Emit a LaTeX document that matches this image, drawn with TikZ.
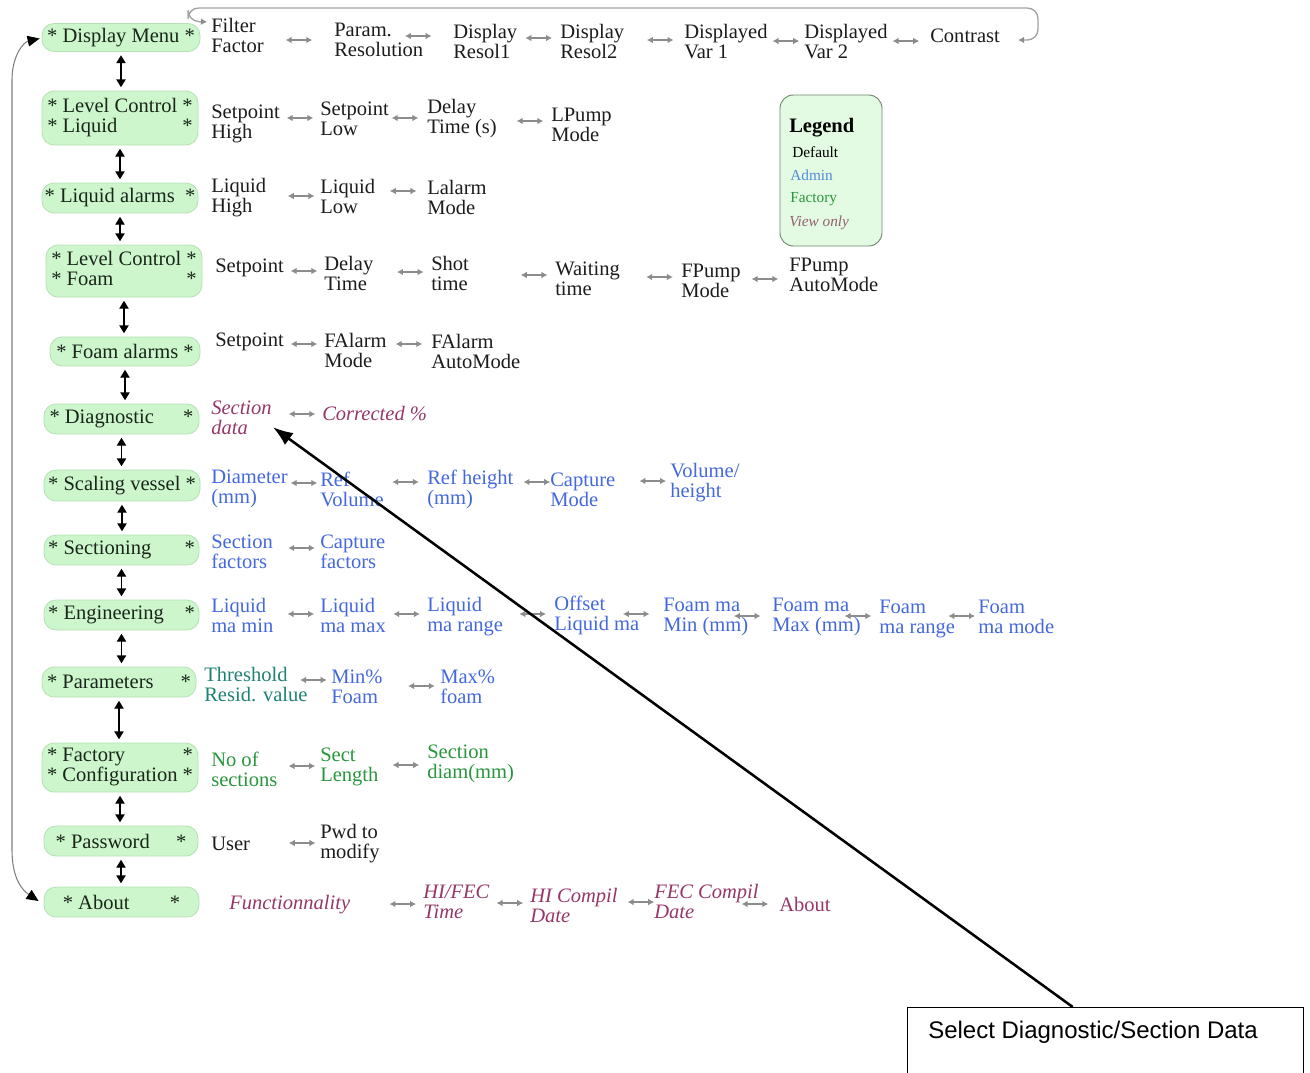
\documentclass[tikz,border=0pt]{standalone}
\usepackage{fontspec}
\setmainfont{Liberation Serif}
\newfontfamily\arialf{Liberation Sans}
\usetikzlibrary{arrows.meta,calc}
\definecolor{mfill}{RGB}{205,246,205}
\definecolor{mdraw}{RGB}{180,224,180}
\definecolor{lfill}{RGB}{226,251,226}
\definecolor{ldraw}{RGB}{110,135,110}
\definecolor{mtext}{RGB}{25,38,25}
\definecolor{admin}{RGB}{68,104,222}
\definecolor{fact}{RGB}{40,150,60}
\definecolor{tealc}{RGB}{30,130,115}
\definecolor{view}{RGB}{150,55,105}
\definecolor{garr}{RGB}{140,140,140}
\definecolor{ladmin}{RGB}{80,140,215}
\definecolor{lview}{RGB}{150,95,115}
\definecolor{dtext}{RGB}{28,28,28}
\newcommand\ifont{\fontsize{15.4}{15}\selectfont}
\newcommand\lnk[4][0]{%
  \path let \p1=(#2.east), \p2=(#3.west) in
    coordinate (#2#3) at ({(\x1+\x2)/2+0.75pt*(#1)},{-0.75pt*(#4)});
  \draw[garrow] ([xshift=-10pt]#2#3) -- ([xshift=10pt]#2#3);}
\newcommand\vlnk[2]{\draw[varrow] (#1.south) -- (#1.south |- #2.north);}
\begin{document}
\begin{tikzpicture}[x=0.75pt,y=-0.75pt,
  menu/.style={draw=mdraw, fill=mfill, rounded corners=9pt, line width=0.6pt,
    inner sep=0pt, font=\ifont, text=mtext},
  it/.style={anchor=west, inner sep=0pt, align=left, font=\ifont, text=dtext},
  adm/.style={it, text=admin},
  fac/.style={it, text=fact},
  viw/.style={it, text=view, font=\ifont\itshape},
  lsm/.style={anchor=west, inner sep=0pt, font=\fontsize{11.5}{12}\selectfont},
  garrow/.style={draw=garr, line width=1.1pt,
    {Latex[length=4.5pt,width=5pt]}-{Latex[length=4.5pt,width=5pt]}},
  varrow/.style={draw=black, line width=1.1pt, shorten <=2.5pt, shorten >=2.5pt,
    {Triangle[length=6pt,width=7pt]}-{Triangle[length=6pt,width=7pt]}},
  lloop/.style={draw=gray, line width=0.8pt,
    {Triangle[length=9pt,width=8pt,color=black]}-{Triangle[length=9pt,width=8pt,color=black]}},
  tloop/.style={draw=garr!80, line width=1pt, rounded corners=8pt,
    {Latex[length=4.5pt,width=5pt,color=garr]}-{Latex[length=4.5pt,width=5pt,color=garr]}},
  calla/.style={draw=black, line width=1.9pt, -{Latex[length=15pt,width=11pt]}}
]
\fill[white] (0,0) rectangle (1310,1072);
\useasboundingbox (0,0) rectangle (1310,1072);

% ---------- menu column ----------
\node[menu, minimum width=118.5pt, minimum height=21pt] (dm) at (121,37.5) {* Display Menu *};
\node[menu, minimum width=117pt, minimum height=40.5pt] (lcl) at (120,118)
  {\begin{tabular}{@{}l@{}r@{}}{*} Level Control&\ {*}\\{*} Liquid&{*}\end{tabular}};
\node[menu, minimum width=117pt, minimum height=22.5pt] (la) at (120,198) {* Liquid alarms\ \ *};
\node[menu, minimum width=117pt, minimum height=39pt] (lcf) at (124,271)
  {\begin{tabular}{@{}l@{}r@{}}{*} Level Control&\ {*}\\{*} Foam&{*}\end{tabular}};
\node[menu, minimum width=112.5pt, minimum height=21.75pt] (fa) at (125,351.5) {* Foam alarms *};
\node[menu, minimum width=116.25pt, minimum height=22.5pt] (dg) at (121.5,419)
  {\makebox[108pt]{* Diagnostic\hfill*}};
\node[menu, minimum width=117pt, minimum height=23.25pt] (sv) at (122,485.5) {* Scaling vessel *};
\node[menu, minimum width=116.25pt, minimum height=22.5pt] (sc) at (121.5,550)
  {\makebox[110pt]{* Sectioning\hfill*}};
\node[menu, minimum width=116.25pt, minimum height=22.5pt] (en) at (121.5,615)
  {\makebox[110pt]{* Engineering\hfill*}};
\node[menu, minimum width=115.5pt, minimum height=22.5pt] (pa) at (119,682)
  {\makebox[108pt]{* Parameters\hfill*}};
\node[menu, minimum width=117pt, minimum height=36.75pt] (fc) at (120,767.5)
  {\begin{tabular}{@{}l@{}r@{}}{*} Factory&{*}\\{*} Configuration&\ {*}\end{tabular}};
\node[menu, minimum width=115.5pt, minimum height=22.5pt] (pwd) at (121,841)
  {\makebox[98pt]{* Password\hfill*}};
\node[menu, minimum width=116.25pt, minimum height=22.5pt] (abt) at (121.5,902)
  {\makebox[88pt]{* About\hfill*}};

\vlnk{dm}{lcl}
\vlnk{lcl}{la}
\vlnk{la}{lcf}
\vlnk{lcf}{fa}
\vlnk{fa}{dg}
\vlnk{dg}{sv}
\vlnk{sv}{sc}
\vlnk{sc}{en}
\vlnk{en}{pa}
\vlnk{pa}{fc}
\vlnk{fc}{pwd}
\vlnk{pwd}{abt}

\draw[lloop] ([shift={(-2,1)}]dm.west) .. controls (24,42) and (12,55) .. (12,80)
  -- (12,850) .. controls (12,878) and (22,890) .. ([shift={(-5,-1)}]abt.west);

% ---------- row 1 ----------
\node[it] (ff) at (211,35) {Filter\\Factor};
\node[it] (pr) at (334,40) {Param.\\Resolution};
\node[it] (dra) at (453,41) {Display\\Resol1};
\node[it] (drb) at (560,41) {Display\\Resol2};
\node[it] (dva) at (684,42) {Displayed\\Var 1};
\node[it] (dvb) at (804,42) {Displayed\\Var 2};
\node[it] (ct) at (930,36) {Contrast};
\lnk{ff}{pr}{40}
\lnk[-20]{pr}{dra}{36}
\lnk{dra}{drb}{38}
\lnk[6]{drb}{dva}{40}
\lnk{dva}{dvb}{41}
\lnk[-3]{dvb}{ct}{41}
\draw[tloop] ([shift={(18,4)}]ct.east) -- (1038,40) -- (1038,8) -- (188,8)
  -- (188,21) -- ([shift={(-4,-13)}]ff.west);

% ---------- row 2 ----------
\node[it] (sh) at (211,124) {Setpoint\\High};
\node[it] (sl) at (320,119) {Setpoint\\Low};
\node[it] (dt) at (427,119) {Delay\\Time (s)};
\node[it] (lp) at (551,125) {LPump\\Mode};
\lnk{sh}{sl}{118}
\lnk[-3]{sl}{dt}{118}
\lnk[6]{dt}{lp}{121}

% ---------- row 3 ----------
\node[it] (lh) at (211,198) {Liquid\\High};
\node[it] (ll) at (320,196) {Liquid\\Low};
\node[it] (lm) at (427,197) {Lalarm\\Mode};
\lnk[8]{lh}{ll}{196}
\lnk[2]{ll}{lm}{191}

% ---------- row 4 ----------
\node[it] (fs) at (215,268) {Setpoint};
\node[it] (fd) at (324,273) {Delay\\Time};
\node[it] (st) at (431,273) {Shot\\time};
\node[it] (wt) at (555,279) {Waiting\\time};
\node[it] (fm) at (681,281) {FPump\\Mode};
\node[it] (fpa) at (789,275) {FPump\\AutoMode};
\lnk{fs}{fd}{271}
\lnk[8]{fd}{st}{272}
\lnk[22]{st}{wt}{275}
\lnk[9]{wt}{fm}{277}
\lnk{fm}{fpa}{279}

% ---------- row 5 ----------
\node[it] (fas) at (215,342) {Setpoint};
\node[it] (fam) at (324,350) {FAlarm\\Mode};
\node[it] (faa) at (431,351) {FAlarm\\AutoMode};
\lnk{fas}{fam}{344}
\lnk{fam}{faa}{344}

% ---------- row 6 ----------
\node[viw] (sd) at (211,418) {Section\\data};
\node[viw] (cp) at (322,414) {Corrected \%};
\lnk[5]{sd}{cp}{414}

% ---------- row 7 ----------
\node[adm] (di) at (211,489) {Diameter\\(mm)};
\node[adm] (rv) at (320,489) {Ref\\Volume};
\node[adm] (rh) at (427,489) {Ref height\\(mm)};
\node[adm] (cm) at (550,490) {Capture\\Mode};
\node[adm] (vh) at (670,483) {Volume/\\height};
\lnk{di}{rv}{483}
\lnk{rv}{rh}{482}
\lnk[5]{rh}{cm}{482}
\lnk[10]{cm}{vh}{481}

% ---------- row 8 ----------
\node[adm] (sf) at (211,552) {Section\\factors};
\node[adm] (cf) at (320,552) {Capture\\factors};
\lnk[5]{sf}{cf}{548}

% ---------- row 9 ----------
\node[adm] (lmin) at (211,615) {Liquid\\ma min};
\node[adm] (lmax) at (320,615) {Liquid\\ma max};
\node[adm] (lrg) at (427,617) {Liquid\\ma range};
\node[adm] (ofs) at (554,615) {Offset\\Liquid ma};
\node[adm] (fmin) at (663,617) {Foam ma\\Min (mm)};
\node[adm] (fmax) at (772,617) {Foam ma\\Max (mm)};
\node[adm] (frg) at (879,619) {Foam\\ma range};
\node[adm] (fmd) at (978,617) {Foam\\ma mode};
\lnk[4]{lmin}{lmax}{614}
\lnk{lmax}{lrg}{614}
\lnk[4]{lrg}{ofs}{614}
\lnk[-15]{ofs}{fmin}{614}
\lnk[-13]{fmin}{fmax}{616}
\lnk[-12]{fmax}{frg}{616}
\lnk[-5]{frg}{fmd}{616}

% ---------- row 10 ----------
\node[it, text=tealc] (th) at (204,685) {Threshold\\Resid. value};
\node[adm] (mn) at (331,687) {Min\%\\Foam};
\node[adm] (mx) at (440,687) {Max\%\\foam};
\lnk[-6]{th}{mn}{680}
\lnk[10]{mn}{mx}{686}

% ---------- row 11 ----------
\node[fac] (ns) at (211,769) {No of\\sections};
\node[fac] (sle) at (320,767) {Sect\\Length};
\node[fac] (sdm) at (427,764) {Section\\diam(mm)};
\lnk[3]{ns}{sle}{766}
\lnk[3]{sle}{sdm}{765}

% ---------- row 12 ----------
\node[it] (us) at (211,844) {User};
\node[it] (pw) at (320,844) {Pwd to\\modify};
\lnk[17]{us}{pw}{843}

% ---------- row 13 ----------
\node[viw] (fn) at (229,905) {Functionnality};
\node[viw] (hft) at (423,902) {HI/FEC\\Time};
\node[viw] (hcd) at (530,905) {HI Compil\\Date};
\node[viw] (fcd) at (654,901) {FEC Compil\\Date};
\node[it, text=view] (ab) at (779,904) {About};
\lnk[16]{fn}{hft}{904}
\lnk{hft}{hcd}{903}
\lnk[5]{hcd}{fcd}{902}
\lnk[-14]{fcd}{ab}{904}

% ---------- legend ----------
\node[draw=ldraw, fill=lfill, rounded corners=10pt, line width=0.7pt,
  minimum width=76.5pt, minimum height=113.25pt] (leg) at (831,170.5) {};
\node[anchor=west, inner sep=0pt, font=\bfseries\fontsize{15.4}{15}\selectfont] (lgt) at (789,128) {Legend};
\node[lsm] (lg1) at (792,152) {Default};
\node[lsm, text=ladmin] (lg2) at (790,175) {Admin};
\node[lsm, text=fact] (lg3) at (790,199) {Factory};
\node[lsm, text=lview, font=\fontsize{11.5}{12}\selectfont\itshape] (lg4) at (789,223) {View only};

% ---------- callout ----------
\node[draw=black, line width=1.1pt, anchor=north west, minimum width=297pt,
  minimum height=80pt] (cb) at (907,1007) {};
\node[anchor=west, inner sep=0pt, font=\arialf\fontsize{18}{20}\selectfont] (cbt) at (928,1032)
  {Select Diagnostic/Section Data};
\draw[calla] ([shift={(-33,0)}]cb.north) -- ([shift={(1,-8)}]sd.south east);
\end{tikzpicture}
\end{document}
